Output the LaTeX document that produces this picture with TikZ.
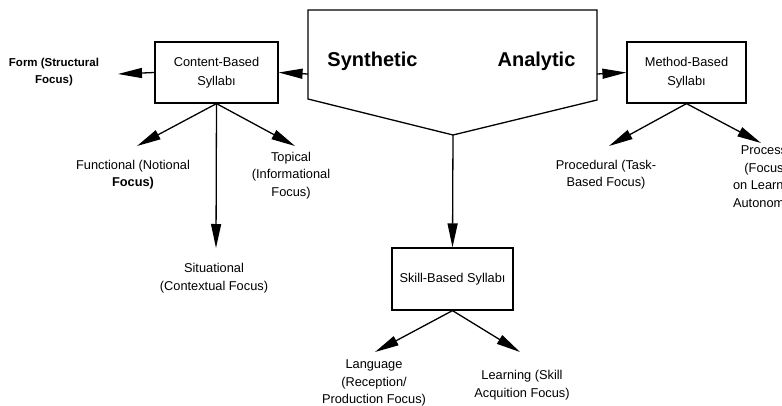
\documentclass[tikz,border=0pt]{standalone}
\usepackage{fontspec}
\setmainfont{Liberation Sans}
\usetikzlibrary{positioning}
\usetikzlibrary{arrows.meta}
\pgfdeclarelayer{nodelayer}
\pgfdeclarelayer{edgelayer}
\pgfsetlayers{edgelayer,nodelayer,main}
\tikzset{
    none/.style = {inner sep=0pt},
    syllabus/.style = {draw, line width=1.2pt, minimum height=61pt, align=center, inner sep=0pt,
        font=\fontsize{12.8}{19}\selectfont},
    focus/.style = {align=center, inner sep=0pt, font=\fontsize{12.8}{17.5}\selectfont},
    big/.style = {inner sep=0pt, font=\fontsize{20}{24}\selectfont\bfseries},
    edge/.style = {line width=1.3pt, -{Triangle[length=24pt,width=10pt]}}
}

\begin{document}
\begin{tikzpicture}[x=1pt, y=-1pt]
    \useasboundingbox (0,0) rectangle (782,405);
    \clip (0,0) rectangle (782,405);
    \begin{pgfonlayer}{nodelayer}
        % the three syllabus boxes
        \node [style=syllabus, minimum width=123pt] (content) at (216.5, 72.5) {Content-Based\\Syllabı};
        \node [style=syllabus, minimum width=119pt] (method) at (686.5, 72.5) {Method-Based\\Syllabı};
        \node [style=syllabus, minimum width=121pt, minimum height=62pt] (skill) at (452.5, 279) {Skill-Based Syllabı};
        % the big pentagon
        \coordinate (p1) at (308, 10);
        \coordinate (p2) at (597, 10);
        \coordinate (p3) at (597, 100);
        \coordinate (p4) at (453, 135);
        \coordinate (p5) at (308, 99);
        \coordinate (synleft) at (308, 74);
        \coordinate (anaright) at (597, 74);
        \node [style=big] (syn) at (372.5, 61) {Synthetic};
        \node [style=big] (ana) at (536.5, 61) {Analytic};
        % focus labels
        \node [style=focus, font=\fontsize{11.5}{17.5}\selectfont\bfseries] (form) at (54, 72) {Form (Structural\\Focus)};
        \node [style=focus] (functional) at (133, 174.5) {Functional (Notional\\\textbf{Focus)}};
        \node [style=focus] (topical) at (291, 175.5) {Topical\\(Informational\\Focus)};
        \node [style=focus] (situational) at (214, 278) {Situational\\(Contextual Focus)};
        \node [style=focus] (procedural) at (606, 174.5) {Procedural (Task-\\Based Focus)};
        \node [style=focus] (process) at (764, 178) {Process\\(Focus\\on Learner\\Autonomy)};
        \node [style=focus] (language) at (374, 383) {Language\\(Reception/\\Production Focus)};
        \node [style=focus] (learning) at (522, 385) {Learning (Skill\\Acquition Focus)};
        % arrow tips
        \coordinate (formtip) at (118, 74);
        \coordinate (functip) at (137, 146);
        \coordinate (toptip) at (295, 146);
        \coordinate (sittip) at (216, 248);
        \coordinate (proctip) at (609, 146);
        \coordinate (processtip) at (761, 143);
        \coordinate (langtip) at (375, 352);
        \coordinate (learntip) at (520, 352);
    \end{pgfonlayer}
    \begin{pgfonlayer}{edgelayer}
        \draw [line width=1.3pt] (p1) -- (p2) -- (p3) -- (p4) -- (p5) -- cycle;
        \draw [style=edge] (synleft) to (content.east);
        \draw [style=edge] (anaright) to (method.west);
        \draw [style=edge] (p4) to (skill.north);
        \draw [style=edge] (content.west) to (formtip);
        \draw [style=edge] (content.south) to (functip);
        \draw [style=edge] (content.south) to (toptip);
        \draw [style=edge] (content.south) to (sittip);
        \draw [style=edge] (method.south) to (proctip);
        \draw [style=edge] (method.south) to (processtip);
        \draw [style=edge] (skill.south) to (langtip);
        \draw [style=edge] (skill.south) to (learntip);
    \end{pgfonlayer}
\end{tikzpicture}
\end{document}
